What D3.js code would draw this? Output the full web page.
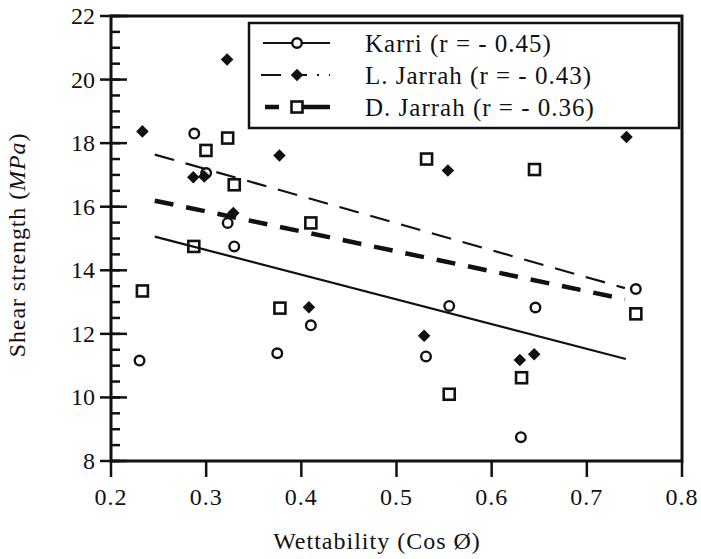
<!DOCTYPE html>
<html>
<head>
<meta charset="utf-8">
<script src="https://cdnjs.cloudflare.com/ajax/libs/d3/7.8.5/d3.min.js"></script>
<style>
  body { margin: 0; background: #fff; }
  text { font-family: "Liberation Serif", "DejaVu Serif", serif; fill: #111; }
</style>
</head>
<body>
<script>
var w = 701;
var h = 559;

// data
var karriX = [0.230, 0.2875, 0.300, 0.3226, 0.3295, 0.3747, 0.410, 0.531, 0.5554, 0.6307, 0.646, 0.7515];
var karriY = [11.16, 18.30, 17.06, 15.49, 14.75, 11.39, 12.27, 11.29, 12.88, 8.75, 12.83, 13.41];

var lJarrahX = [0.233, 0.2865, 0.298, 0.322, 0.3285, 0.377, 0.408, 0.529, 0.554, 0.6296, 0.6447, 0.7417];
var lJarrahY = [18.37, 16.93, 16.95, 20.63, 15.80, 17.61, 12.84, 11.94, 17.14, 11.18, 11.36, 18.19];

var dJarrahX = [0.233, 0.287, 0.2998, 0.3226, 0.3295, 0.3775, 0.410, 0.5316, 0.5554, 0.6314, 0.645, 0.7515];
var dJarrahY = [13.35, 14.75, 17.77, 18.16, 16.69, 12.81, 15.49, 17.50, 10.10, 10.62, 17.17, 12.63];

// fitted lines, ends
var karriFit = [[0.246, 15.06], [0.741, 11.21]];
var lJarrahFit = [[0.246, 17.64], [0.740, 13.44]];
var dJarrahFit = [[0.246, 16.19], [0.740, 13.09]];

var xTicks = [0.2, 0.3, 0.4, 0.5, 0.6, 0.7, 0.8];
var yTicks = [8, 10, 12, 14, 16, 18, 20, 22];
var legendLabels = ["Karri (r = - 0.45)", "L. Jarrah (r = - 0.43)", "D. Jarrah (r = - 0.36)"];

var svg = d3.select("body")
    .append("svg")
        .attr("width", w)
        .attr("height", h);

var x = d3.scaleLinear().domain([0.2, 0.8]).range([111, 682]);
var y = d3.scaleLinear().domain([8, 22]).range([461, 16]);

var zip = function(xs, ys) {
    return xs.map(function(d, i) { return [d, ys[i]]; });
}

// frame
svg.append("rect")
    .attr("x", x(0.2))
    .attr("y", y(22))
    .attr("width", x(0.8) - x(0.2))
    .attr("height", y(8) - y(22))
    .attr("fill", "none")
    .attr("stroke", "#111")
    .attr("stroke-width", 3);

// y axis: major ticks cross the line, minor ticks inside
var minorY = d3.range(8, 22.01, 0.5);
svg.selectAll(".ymin")
    .data(minorY)
    .enter()
    .append("line")
        .attr("x1", x(0.2))
        .attr("x2", x(0.2) + 9)
        .attr("y1", function(d) { return y(d); })
        .attr("y2", function(d) { return y(d); })
        .attr("stroke", "#111")
        .attr("stroke-width", 2.5);

svg.selectAll(".ymaj")
    .data(yTicks)
    .enter()
    .append("line")
        .attr("x1", x(0.2) - 11)
        .attr("x2", x(0.2) + 16)
        .attr("y1", function(d) { return y(d); })
        .attr("y2", function(d) { return y(d); })
        .attr("stroke", "#111")
        .attr("stroke-width", 2.5);

svg.selectAll(".ylab")
    .data(yTicks)
    .enter()
    .append("text")
        .text(function(d) { return d; })
        .attr("x", 95)
        .attr("y", function(d) { return y(d) + 8; })
        .attr("text-anchor", "end")
        .attr("font-size", 24);

// x axis
svg.selectAll(".xmaj")
    .data(xTicks)
    .enter()
    .append("line")
        .attr("x1", function(d) { return x(d); })
        .attr("x2", function(d) { return x(d); })
        .attr("y1", y(8))
        .attr("y2", y(8) + 16)
        .attr("stroke", "#111")
        .attr("stroke-width", 2.5);

svg.selectAll(".xlab")
    .data(xTicks)
    .enter()
    .append("text")
        .text(function(d) { return d.toFixed(1); })
        .attr("x", function(d) { return x(d); })
        .attr("y", 505)
        .attr("text-anchor", "middle")
        .attr("font-size", 24)
        .attr("letter-spacing", 1);

svg.append("text")
    .text("Wettability (Cos \u00D8)")
    .attr("x", 377)
    .attr("y", 549)
    .attr("text-anchor", "middle")
    .attr("font-size", 24)
    .attr("letter-spacing", 1);

var yTitle = svg.append("text")
    .attr("transform", "translate(25,245) rotate(-90)")
    .attr("text-anchor", "middle")
    .attr("font-size", 24)
    .attr("letter-spacing", 0.9);
yTitle.append("tspan").text("Shear strength (");
yTitle.append("tspan").attr("font-style", "italic").text("MPa");
yTitle.append("tspan").text(")");

// fitted lines
var line = d3.line()
    .x(function(d) { return x(d[0]); })
    .y(function(d) { return y(d[1]); });

svg.append("path")
    .attr("d", line(karriFit))
    .attr("fill", "none")
    .attr("stroke", "#111")
    .attr("stroke-width", 2.2);

svg.append("path")
    .attr("d", line(lJarrahFit))
    .attr("fill", "none")
    .attr("stroke", "#111")
    .attr("stroke-width", 2.2)
    .attr("stroke-dasharray", "20,12");

svg.append("path")
    .attr("d", line(dJarrahFit))
    .attr("fill", "none")
    .attr("stroke", "#111")
    .attr("stroke-width", 4.5)
    .attr("stroke-dasharray", "19,13");

// markers
var diamond = d3.symbol().type(d3.symbolDiamond2).size(100);

svg.selectAll(".karri")
    .data(zip(karriX, karriY))
    .enter()
    .append("circle")
        .attr("cx", function(d) { return x(d[0]); })
        .attr("cy", function(d) { return y(d[1]); })
        .attr("r", 4.8)
        .attr("fill", "none")
        .attr("stroke", "#111")
        .attr("stroke-width", 2.4);

svg.selectAll(".djarrah")
    .data(zip(dJarrahX, dJarrahY))
    .enter()
    .append("rect")
        .attr("x", function(d) { return x(d[0]) - 5.5; })
        .attr("y", function(d) { return y(d[1]) - 5.5; })
        .attr("width", 11)
        .attr("height", 11)
        .attr("fill", "none")
        .attr("stroke", "#111")
        .attr("stroke-width", 2.6);

svg.selectAll(".ljarrah")
    .data(zip(lJarrahX, lJarrahY))
    .enter()
    .append("path")
        .attr("d", diamond)
        .attr("transform", function(d) { return "translate(" + x(d[0]) + "," + y(d[1]) + ")"; })
        .attr("fill", "#111");

// legend
var lg = svg.append("g");
lg.append("rect")
    .attr("x", 249)
    .attr("y", 23)
    .attr("width", 430)
    .attr("height", 105)
    .attr("fill", "#fff")
    .attr("stroke", "#111")
    .attr("stroke-width", 2.5);

var rows = [43, 75, 107];

lg.append("line")
    .attr("x1", 263).attr("x2", 330)
    .attr("y1", rows[0]).attr("y2", rows[0])
    .attr("stroke", "#111").attr("stroke-width", 2.2);
lg.append("circle")
    .attr("cx", 297).attr("cy", rows[0]).attr("r", 4.8)
    .attr("fill", "#fff").attr("stroke", "#111").attr("stroke-width", 2.4);

lg.append("line")
    .attr("x1", 261).attr("x2", 330)
    .attr("y1", rows[1]).attr("y2", rows[1])
    .attr("stroke", "#111").attr("stroke-width", 2.2)
    .attr("stroke-dasharray", "20,12,14,10,2,10");
lg.append("path")
    .attr("d", diamond)
    .attr("transform", "translate(297," + rows[1] + ")")
    .attr("fill", "#111");

lg.append("line")
    .attr("x1", 265).attr("x2", 330)
    .attr("y1", rows[2]).attr("y2", rows[2])
    .attr("stroke", "#111").attr("stroke-width", 4.5)
    .attr("stroke-dasharray", "14,12,40");
lg.append("rect")
    .attr("x", 291.5).attr("y", rows[2] - 5.5)
    .attr("width", 11).attr("height", 11)
    .attr("fill", "#fff").attr("stroke", "#111").attr("stroke-width", 2.6);

lg.selectAll(".ltext")
    .data(legendLabels)
    .enter()
    .append("text")
        .text(function(d) { return d; })
        .attr("x", 365)
        .attr("y", function(d, i) { return rows[i] + 9; })
        .attr("font-size", 25)
        .attr("letter-spacing", 1);
</script>
</body>
</html>
